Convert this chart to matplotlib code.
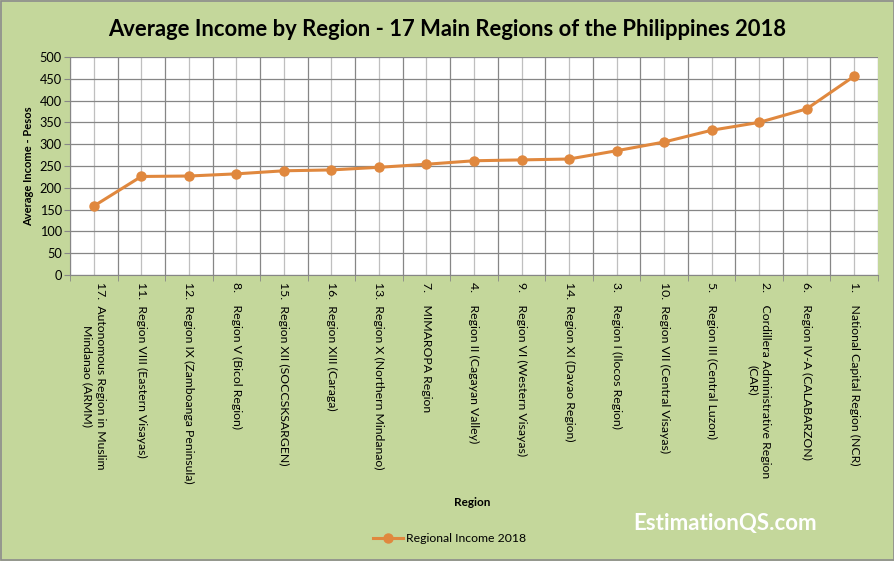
import matplotlib.pyplot as plt
from matplotlib.patches import Rectangle

# --- Data ---
regions = [
    "17.  Autonomous Region in Muslim\nMindanao (ARMM)",
    "11.  Region VIII (Eastern Visayas)",
    "12.  Region IX (Zamboanga Peninsula)",
    "8.    Region V (Bicol Region)",
    "15.  Region XII (SOCCSKSARGEN)",
    "16.  Region XIII (Caraga)",
    "13.  Region X (Northern Mindanao)",
    "7.    MIMAROPA Region",
    "4.    Region II (Cagayan Valley)",
    "9.    Region VI (Western Visayas)",
    "14.  Region XI (Davao Region)",
    "3.    Region I (Ilocos Region)",
    "10.  Region VII (Central Visayas)",
    "5.    Region III (Central Luzon)",
    "2.    Cordillera Administrative Region\n(CAR)",
    "6.    Region IV-A (CALABARZON)",
    "1.    National Capital Region (NCR)",
]
income = [158, 226, 227, 232, 239, 241, 247, 254, 262, 264, 266, 285, 305, 332, 350, 381, 456]
y_ticks = list(range(0, 501, 50))

# --- Style ---
bg = "#C4D79B"
orange = "#E0883E"
plt.rcParams["font.family"] = ["Lato", "DejaVu Sans"]

fig = plt.figure(figsize=(8.95, 5.61), dpi=100, facecolor=bg)
fig.patches.append(
    Rectangle((0.001, 0.001), 0.998, 0.997, transform=fig.transFigure,
              fill=False, edgecolor="#8C8C8C", linewidth=1.2)
)
ax = fig.add_axes([0.0782, 0.5098, 0.9028, 0.3886])
ax.set_facecolor("white")

x = list(range(len(income)))
ax.plot(x, income, "-o", color=orange, linewidth=2.2, markersize=6.5,
        label="Regional Income 2018", zorder=3)

ax.set_xlim(-0.5, len(income) - 0.5)
ax.set_ylim(0, 500)
ax.set_yticks(y_ticks)
ax.tick_params(axis="y", labelsize=9.2, length=4, color="#868686", pad=2)

# category labels at centres, tick marks at boundaries
ax.set_xticks(x)
ax.set_xticklabels(regions, rotation=-90, fontsize=8.8, va="top",
                   ha="center", multialignment="center")
ax.set_xticks([i - 0.5 for i in range(len(income) + 1)], minor=True)
ax.tick_params(axis="x", which="major", length=0, pad=5)
ax.tick_params(axis="x", which="minor", length=4, color="#868686")

ax.grid(axis="y", color="#868686", linewidth=0.9)
ax.grid(axis="x", which="major", color="#BFBFBF", linewidth=0.9)
ax.grid(axis="x", which="minor", color="#868686", linewidth=0.9)
ax.set_axisbelow(True)
for s in ax.spines.values():
    s.set_color("#868686")
ax.spines["top"].set_visible(False)
ax.spines["right"].set_visible(False)

ax.set_ylabel("Average Income - Pesos", fontsize=8, fontweight="bold", labelpad=4)
fig.text(0.528, 0.105, "Region", fontsize=8.5, fontweight="bold", ha="center", va="center")
fig.suptitle("Average Income by Region - 17 Main Regions of the Philippines 2018",
             x=0.5, y=0.966, fontsize=15.8, fontweight="bold")
fig.text(0.81, 0.066, "EstimationQS.com", color="white", fontsize=16,
         fontweight="bold", ha="center", va="center")

fig.legend(loc="center", bbox_to_anchor=(0.502, 0.04), frameon=False,
           fontsize=8.8, handlelength=2.5, handletextpad=0.2)

plt.savefig("out.png", dpi=100, facecolor=bg)
